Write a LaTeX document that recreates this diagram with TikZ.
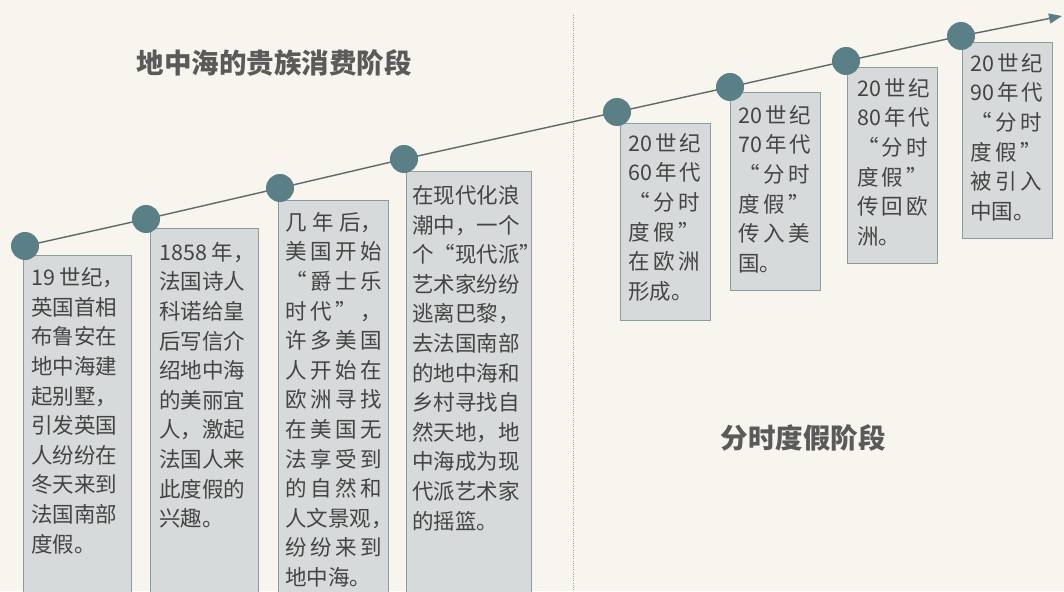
\documentclass[tikz,border=0pt]{standalone}
\usepackage{fontspec}
\setmainfont{Noto Sans CJK SC}
\usetikzlibrary{arrows.meta}
\definecolor{bg}{HTML}{F8F4EE}
\definecolor{boxfill}{HTML}{D6DADA}
\definecolor{boxline}{HTML}{8A9C9C}
\definecolor{dotc}{HTML}{5B7F86}
\definecolor{linec}{HTML}{5E6A6A}
\definecolor{txt}{HTML}{444444}
\definecolor{head}{HTML}{5A5A5A}
\newcommand{\spr}[2]{\makebox[#1pt][s]{#2}}
\tikzset{
  boxst/.style={draw=boxline, fill=boxfill, line width=1pt, rectangle, inner sep=0pt, anchor=north west},
  txtst/.style={text=txt, font=\fontsize{21.5}{29.6}\selectfont, align=left, inner sep=0pt, anchor=north west},
  headst/.style={text=head, font=\fontsize{27.5}{30}\selectfont\bfseries, inner sep=0pt},
  dotst/.style={circle, fill=dotc, minimum size=28pt, inner sep=0pt},
  tline/.style={draw=linec, line width=1.4pt},
  divider/.style={draw=gray!70, line width=1pt, dash pattern=on 1pt off 1.2pt}
}
\begin{document}
\begin{tikzpicture}[x=1pt,y=-1pt]
\fill[bg] (0,0) rectangle (1064,591);
\useasboundingbox (0,0) rectangle (1064,591);
% divider
\coordinate (vt) at (573,15);
\coordinate (vb) at (573,591);
\draw[divider] (vt) -- (vb);
% headings
\node[headst] (h1) at (274,63) {地中海的贵族消费阶段};
\node[headst] (h2) at (803,438) {分时度假阶段};
% boxes
\node[boxst, minimum width=108pt, minimum height=345pt] (b1) at (23,255) {};
\node[boxst, minimum width=108pt, minimum height=372pt] (b2) at (150,228) {};
\node[boxst, minimum width=110pt, minimum height=400pt] (b3) at (278,200) {};
\node[boxst, minimum width=125pt, minimum height=430pt] (b4) at (406,171) {};
\node[boxst, minimum width=90pt, minimum height=197pt] (b5) at (620,123) {};
\node[boxst, minimum width=90pt, minimum height=198pt] (b6) at (730,92) {};
\node[boxst, minimum width=90pt, minimum height=196pt] (b7) at (847,67) {};
\node[boxst, minimum width=90pt, minimum height=196pt] (b8) at (962,42) {};
% texts
\node[txtst] (t1) at (31,267.5) {19 世纪，\\英国首相\\布鲁安在\\地中海建\\起别墅，\\引发英国\\人纷纷在\\冬天来到\\法国南部\\度假。};
\node[txtst] (t2) at (159,242) {1858 年，\\法国诗人\\科诺给皇\\后写信介\\绍地中海\\的美丽宜\\人，激起\\法国人来\\此度假的\\兴趣。};
\node[txtst] (t3) at (285,212) {\spr{97}{几 年 后，}\\\spr{97}{美 国 开 始}\\\spr{97}{“ 爵 士 乐}\\\spr{97}{时 代 ” ，}\\\spr{97}{许 多 美 国}\\\spr{97}{人 开 始 在}\\\spr{97}{欧 洲 寻 找}\\\spr{97}{在 美 国 无}\\\spr{97}{法 享 受 到}\\\spr{97}{的 自 然 和}\\人文景观\rlap{，}\\\spr{97}{纷 纷 来 到}\\地中海。};
\node[txtst] (t4) at (412,185) {在现代化浪\\潮中，一个\\个“现代派”\\艺术家纷纷\\逃离巴黎，\\去法国南部\\的地中海和\\乡村寻找自\\然天地，地\\中海成为现\\代派艺术家\\的摇篮。};
\node[txtst] (t5) at (628,133) {\spr{72}{20 世 纪}\\\spr{72}{60 年 代}\\\spr{72}{“ 分 时}\\\spr{72}{度 假 ”}\\\spr{72}{在 欧 洲}\\形成。};
\node[txtst] (t6) at (738,105) {\spr{72}{20 世 纪}\\\spr{72}{70 年 代}\\\spr{72}{“ 分 时}\\\spr{72}{度 假 ”}\\\spr{72}{传 入 美}\\国。};
\node[txtst] (t7) at (857,78) {\spr{71}{20 世 纪}\\\spr{71}{80 年 代}\\\spr{71}{“ 分 时}\\\spr{71}{度 假 ”}\\\spr{71}{传 回 欧}\\洲。};
\node[txtst] (t8) at (970,53) {\spr{72}{20 世 纪}\\\spr{72}{90 年 代}\\\spr{72}{“ 分 时}\\\spr{72}{度 假 ”}\\\spr{72}{被 引 入}\\中国。};
% timeline
\coordinate (c1) at (25,246);
\coordinate (c2) at (146,219);
\coordinate (c3) at (280,188);
\coordinate (c4) at (404,159);
\coordinate (c5) at (617,112);
\coordinate (c6) at (730,87);
\coordinate (c7) at (846,61);
\coordinate (c8) at (961,36);
\coordinate (aend) at (1062,16);
\draw[tline, -{Triangle[length=13pt,width=10pt,fill=dotc,color=dotc]}] (c1) -- (c2) -- (c3) -- (c4) -- (c5) -- (c6) -- (c7) -- (c8) -- (aend);
\foreach \i in {1,...,8} { \node[dotst] (d\i) at (c\i) {}; }
\end{tikzpicture}
\end{document}
